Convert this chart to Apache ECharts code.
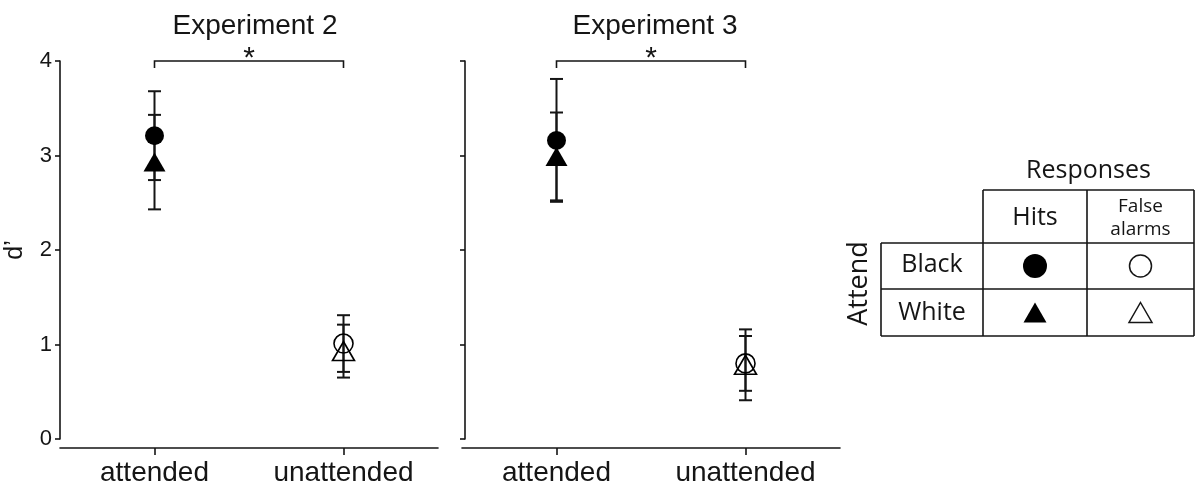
<!DOCTYPE html>
<html>
<head>
<meta charset="utf-8">
<script src="https://cdn.jsdelivr.net/npm/echarts@6/dist/echarts.min.js"></script>
<style>
  html, body { margin: 0; padding: 0; background: #fff; }
  #chart { width: 1197px; height: 491px; }
</style>
</head>
<body>
<div id="chart"></div>
<script>
// d' by attention condition; circles = attend black, triangles = attend white
const categories = ['attended', 'unattended'];
const yTicks = [0, 1, 2, 3, 4];

const exp2BlackMean = [3.21, 1.01];
const exp2BlackErr  = [0.47, 0.30];
const exp2WhiteMean = [2.93, 0.93];
const exp2WhiteErr  = [0.50, 0.28];

const exp3BlackMean = [3.16, 0.80];
const exp3BlackErr  = [0.65, 0.29];
const exp3WhiteMean = [2.99, 0.785];
const exp3WhiteErr  = [0.465, 0.375];

// significance bracket between the two conditions
const bracketLevel = [4];
const bracketMark = ['*'];

const panelTitles = ['Experiment 2', 'Experiment 3'];

const INK = '#151515';
const AXIS_FONT = '"Liberation Sans", Arial, Helvetica, sans-serif';
const TABLE_FONT = '"Open Sans", "Noto Sans", sans-serif';

function errorData(mean, err) {
  return mean.map((m, i) => [i, m - err[i], m + err[i]]);
}

function renderErrorBar(params, api) {
  const x = api.value(0);
  const top = api.coord([x, api.value(2)]);
  const bot = api.coord([x, api.value(1)]);
  const half = 6.5;
  const st = { stroke: INK, lineWidth: 2 };
  return {
    type: 'group',
    children: [
      { type: 'line', shape: { x1: top[0], y1: top[1], x2: bot[0], y2: bot[1] }, style: st },
      { type: 'line', shape: { x1: top[0] - half, y1: top[1], x2: top[0] + half, y2: top[1] }, style: st },
      { type: 'line', shape: { x1: bot[0] - half, y1: bot[1], x2: bot[0] + half, y2: bot[1] }, style: st }
    ]
  };
}

function renderBracket(params, api) {
  const a = api.coord([api.value(0), api.value(2)]);
  const b = api.coord([api.value(1), api.value(2)]);
  const drop = 7;
  return {
    type: 'group',
    children: [
      {
        type: 'polyline',
        shape: { points: [[a[0], a[1] + drop], [a[0], a[1]], [b[0], b[1]], [b[0], b[1] + drop]] },
        style: { stroke: INK, lineWidth: 1.6, fill: null }
      },
      {
        type: 'text',
        x: (a[0] + b[0]) / 2, y: a[1] - 2,
        style: { text: bracketMark[0], font: '30px ' + AXIS_FONT, fill: INK, align: 'center', verticalAlign: 'middle' }
      }
    ]
  };
}

function markerData(mean) {
  return mean.map((m, i) => ({
    value: [categories[i], m],
    itemStyle: i === 0
      ? { color: '#000', borderWidth: 0, opacity: 1 }
      : { color: 'rgba(255,255,255,0)', borderColor: '#000', borderWidth: 1.6, opacity: 1 }
  }));
}

function panelSeries(gi, blackMean, blackErr, whiteMean, whiteErr) {
  return [
    { type: 'custom', xAxisIndex: gi, yAxisIndex: gi, renderItem: renderErrorBar, data: errorData(blackMean, blackErr), silent: true },
    { type: 'custom', xAxisIndex: gi, yAxisIndex: gi, renderItem: renderErrorBar, data: errorData(whiteMean, whiteErr), silent: true },
    { type: 'scatter', xAxisIndex: gi, yAxisIndex: gi, symbol: 'circle', symbolSize: 19, itemStyle: { opacity: 1 }, data: markerData(blackMean), silent: true },
    { type: 'scatter', xAxisIndex: gi, yAxisIndex: gi, symbol: 'triangle', symbolSize: [22, 19], itemStyle: { opacity: 1 }, data: markerData(whiteMean), silent: true },
    { type: 'custom', xAxisIndex: gi, yAxisIndex: gi, renderItem: renderBracket, data: [[0, 1, bracketLevel[0]]], silent: true, clip: false }
  ];
}

function xAxisCfg(gi) {
  return {
    type: 'category', gridIndex: gi, data: categories, boundaryGap: true, offset: 9,
    axisLine: { onZero: false, lineStyle: { color: INK, width: 1.6 } },
    axisTick: { show: true, inside: false, alignWithLabel: true, length: 7, lineStyle: { color: INK, width: 1.6 } },
    axisLabel: { color: INK, fontSize: 28, fontFamily: AXIS_FONT, margin: 11 },
    splitLine: { show: false }
  };
}

function yAxisCfg(gi, showLabels) {
  return {
    type: 'value', gridIndex: gi, min: yTicks[0], max: yTicks[yTicks.length - 1], interval: 1,
    offset: gi === 1 ? -3 : 0,
    name: showLabels ? 'd\u2019' : '', nameLocation: 'middle', nameRotate: 90, nameGap: 32,
    nameTextStyle: { color: INK, fontSize: 25, fontFamily: AXIS_FONT },
    axisLine: { show: true, lineStyle: { color: INK, width: 1.6 } },
    axisTick: { show: true, length: 5, lineStyle: { color: INK, width: 1.6 } },
    axisLabel: { show: showLabels, color: INK, fontSize: 22, fontFamily: AXIS_FONT, margin: 8 },
    splitLine: { show: false }
  };
}

// legend table drawn with graphic primitives
const TX0 = 881, TX1 = 983, TX2 = 1087, TX3 = 1194;
const TY0 = 190, TY1 = 243, TY2 = 289, TY3 = 336;
const lineStyle = { stroke: INK, lineWidth: 1.6 };
function hline(x1, x2, y) { return { type: 'line', shape: { x1, y1: y, x2, y2: y }, style: lineStyle }; }
function vline(x, y1, y2) { return { type: 'line', shape: { x1: x, y1, x2: x, y2 }, style: lineStyle }; }
function label(text, x, y, size, extra) {
  return Object.assign({ type: 'text', x, y, style: { text, font: size + 'px ' + TABLE_FONT, fill: INK, align: 'center', verticalAlign: 'middle' } }, extra || {});
}
function tri(cx, cy, w, h, filled) {
  return {
    type: 'polygon',
    shape: { points: [[cx, cy - h / 2], [cx + w / 2, cy + h / 2], [cx - w / 2, cy + h / 2]] },
    style: filled ? { fill: '#000' } : { fill: 'none', stroke: INK, lineWidth: 1.5 }
  };
}

const cHits = (TX1 + TX2) / 2, cFa = (TX2 + TX3) / 2, cRow = (TX0 + TX1) / 2;
const rBlack = (TY1 + TY2) / 2, rWhite = (TY2 + TY3) / 2;

const tableGraphics = [
  hline(TX1, TX3, TY0), hline(TX0, TX3, TY1), hline(TX0, TX3, TY2), hline(TX0, TX3, TY3),
  vline(TX0, TY1, TY3), vline(TX1, TY0, TY3), vline(TX2, TY0, TY3), vline(TX3, TY0, TY3),
  label('Responses', (TX1 + TX3) / 2, 171, 25),
  label('Hits', cHits, 218, 25),
  label('False', cFa, 207, 19),
  label('alarms', cFa, 230, 19),
  label('Black', cRow, rBlack - 1, 25),
  label('White', cRow, rWhite, 25),
  label('Attend', 859, (TY1 + TY3) / 2 - 6, 27, { rotation: Math.PI / 2 }),
  { type: 'circle', shape: { cx: cHits, cy: rBlack, r: 12 }, style: { fill: '#000' } },
  { type: 'circle', shape: { cx: cFa, cy: rBlack, r: 11 }, style: { fill: 'none', stroke: INK, lineWidth: 1.5 } },
  tri(cHits, rWhite, 23, 20, true),
  tri(cFa, rWhite, 23, 20, false),
  { type: 'text', x: 255, y: 26, style: { text: panelTitles[0], font: '28px ' + AXIS_FONT, fill: INK, align: 'center', verticalAlign: 'middle' } },
  { type: 'text', x: 655, y: 26, style: { text: panelTitles[1], font: '28px ' + AXIS_FONT, fill: INK, align: 'center', verticalAlign: 'middle' } }
];

const chart = echarts.init(document.getElementById('chart'), null, { renderer: 'canvas' });
chart.setOption({
  backgroundColor: '#fff',
  animation: false,
  grid: [
    { left: 60, top: 61, width: 378, height: 378 },
    { left: 462, top: 61, width: 378, height: 378 }
  ],
  xAxis: [xAxisCfg(0), xAxisCfg(1)],
  yAxis: [yAxisCfg(0, true), yAxisCfg(1, false)],
  series: [].concat(
    panelSeries(0, exp2BlackMean, exp2BlackErr, exp2WhiteMean, exp2WhiteErr),
    panelSeries(1, exp3BlackMean, exp3BlackErr, exp3WhiteMean, exp3WhiteErr)
  ),
  graphic: tableGraphics
});
</script>
</body>
</html>
